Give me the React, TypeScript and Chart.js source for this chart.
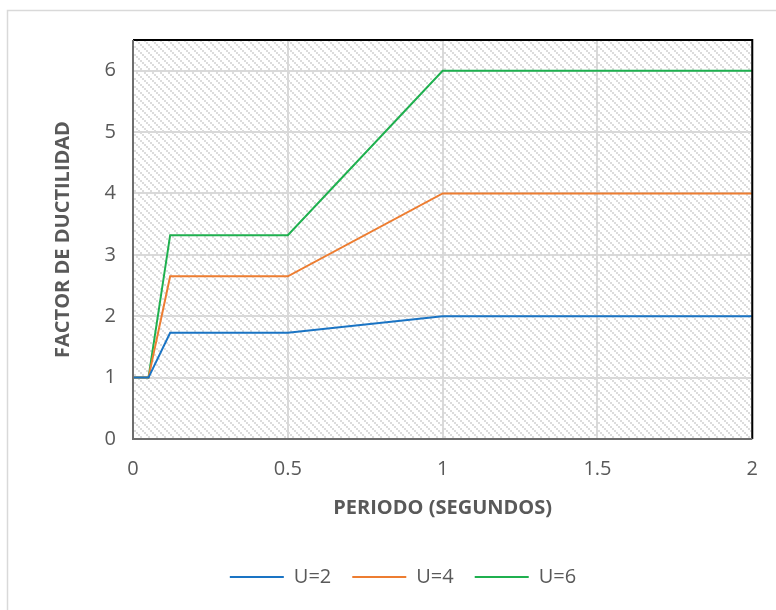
import React, { useEffect, useRef } from "react";
import { Chart, registerables } from "chart.js";

Chart.register(...registerables);

const periods = [0, 0.05, 0.12, 0.5, 1, 2];
const u2 = [1, 1, 1.73, 1.73, 2, 2];
const u4 = [1, 1, 2.65, 2.65, 4, 4];
const u6 = [1, 1, 3.32, 3.32, 6, 6];
const seriesNames = ["U=2", "U=4", "U=6"];
const seriesColors = ["#1a74c4", "#ed7d31", "#1fb04f"];
const xTicks = [0, 0.5, 1, 1.5, 2];
const yTicks = [0, 1, 2, 3, 4, 5, 6];

const FONT = "'Open Sans', sans-serif";
const TXT = "#595959";

function makePattern(): CanvasPattern | string {
  const c = document.createElement("canvas");
  c.width = 8;
  c.height = 8;
  const g = c.getContext("2d");
  if (!g) return "#f0f0f0";
  g.fillStyle = "#ffffff";
  g.fillRect(0, 0, 8, 8);
  g.fillStyle = "#dcdcdc";
  for (let i = 0; i < 8; i += 2) g.fillRect(i, i, 2, 2);
  const p = g.createPattern(c, "repeat");
  return p || "#f0f0f0";
}

const bgPlugin = {
  id: "bgPlugin",
  beforeDraw(chart: any) {
    const { ctx, chartArea: a } = chart;
    ctx.save();
    ctx.fillStyle = "#ffffff";
    ctx.fillRect(0, 0, chart.width, chart.height);
    ctx.strokeStyle = "#d9d9d9";
    ctx.lineWidth = 1.5;
    ctx.beginPath();
    ctx.moveTo(7.5, chart.height);
    ctx.lineTo(7.5, 10.5);
    ctx.lineTo(chart.width, 10.5);
    ctx.stroke();
    ctx.fillStyle = makePattern();
    ctx.fillRect(a.left, a.top, a.right - a.left, a.bottom - a.top);
    ctx.restore();
  },
  afterDatasetsDraw(chart: any) {
    const { ctx, chartArea: a } = chart;
    ctx.save();
    ctx.lineWidth = 2;
    ctx.strokeStyle = "#000000";
    ctx.beginPath();
    ctx.moveTo(a.left, a.top);
    ctx.lineTo(a.right, a.top);
    ctx.lineTo(a.right, a.bottom);
    ctx.stroke();
    ctx.strokeStyle = "#6e6e6e";
    ctx.beginPath();
    ctx.moveTo(a.left, a.top);
    ctx.lineTo(a.left, a.bottom);
    ctx.lineTo(a.right, a.bottom);
    ctx.stroke();
    ctx.restore();
  },
};

export default function App() {
  const ref = useRef<HTMLCanvasElement>(null);
  useEffect(() => {
    if (!ref.current) return;
    const series = [u2, u4, u6];
    const chart = new Chart(ref.current, {
      type: "line",
      data: {
        datasets: series.map((s, i) => ({
          label: seriesNames[i],
          data: s.map((v, j) => ({ x: periods[j], y: v })),
          borderColor: seriesColors[i],
          backgroundColor: seriesColors[i],
          borderWidth: 2,
          pointRadius: 0,
          tension: 0,
          fill: false,
        })),
      },
      options: {
        responsive: false,
        animation: false,
        layout: { padding: { left: 53, right: 23, top: 40, bottom: 13 } },
        plugins: {
          tooltip: { enabled: false },
          legend: {
            position: "bottom",
            labels: {
              boxWidth: 54,
              boxHeight: 0,
              padding: 21,
              color: TXT,
              font: { family: FONT, size: 20 },
            },
          },
        },
        scales: {
          x: {
            type: "linear",
            min: 0,
            max: 2,
            afterBuildTicks: (s: any) => {
              s.ticks = xTicks.map((v) => ({ value: v }));
            },
            afterFit: (s: any) => {
              s.height = 107;
            },
            ticks: {
              color: TXT,
              font: { family: FONT, size: 20 },
              padding: 18,
              maxRotation: 0,
              callback: (v: any) => String(v),
            },
            grid: { color: "#d9d9d9", lineWidth: 2, drawTicks: false },
            border: { display: false },
            title: {
              display: true,
              text: "PERIODO (SEGUNDOS)",
              color: TXT,
              font: { family: FONT, size: 20, weight: "bold" },
              padding: { top: 0, bottom: 26 },
            },
          },
          y: {
            type: "linear",
            min: 0,
            max: 6.5,
            afterBuildTicks: (s: any) => {
              s.ticks = yTicks.map((v) => ({ value: v }));
            },
            afterFit: (s: any) => {
              s.width = 80;
            },
            ticks: {
              color: TXT,
              font: { family: FONT, size: 20 },
              padding: 17,
              callback: (v: any) => String(v),
            },
            grid: { color: "#d9d9d9", lineWidth: 2, drawTicks: false },
            border: { display: false },
            title: {
              display: true,
              text: "FACTOR DE DUCTILIDAD",
              color: TXT,
              font: { family: FONT, size: 20, weight: "bold", lineHeight: 1.0 },
              padding: 0,
            },
          },
        },
      },
      plugins: [bgPlugin],
    });
    return () => chart.destroy();
  }, []);
  return (
    <div style={{ position: "fixed", left: 0, top: 0, width: 776, height: 610, background: "#fff" }}>
      <canvas ref={ref} width={776} height={610} />
    </div>
  );
}
